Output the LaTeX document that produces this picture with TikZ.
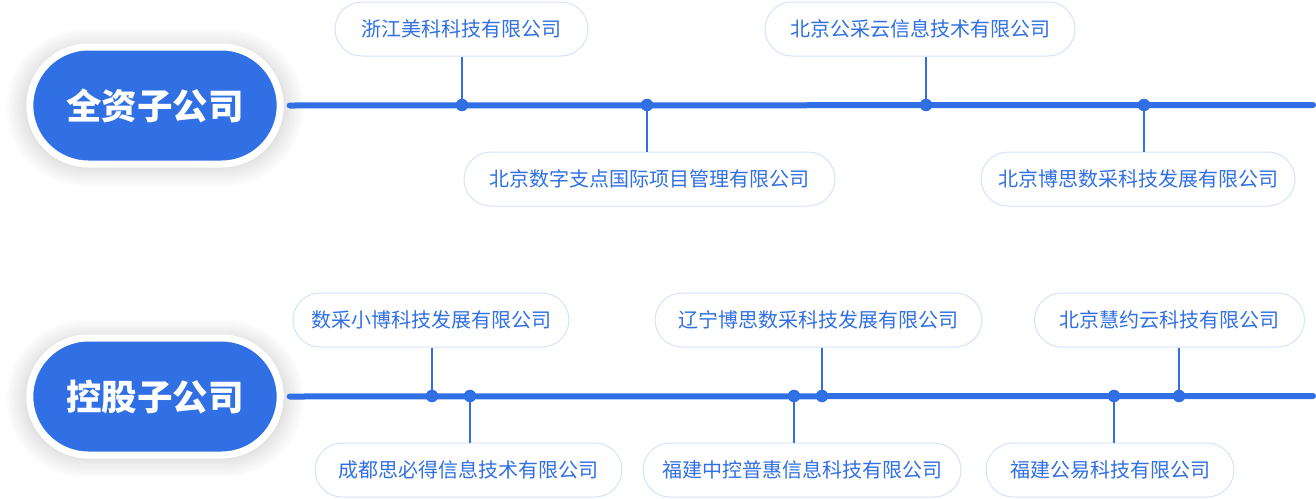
\documentclass[tikz,border=0pt]{standalone}
\usepackage{fontspec}
\newfontfamily\cjk{Noto Sans CJK SC}
\usetikzlibrary{shapes.misc,shadows.blur}
\definecolor{mainblue}{RGB}{48,112,228}
\definecolor{boxline}{RGB}{214,226,247}
\tikzset{
  group/.style={rounded rectangle, fill=mainblue, draw=white, line width=7pt,
    minimum width=257pt, minimum height=117pt, text=white,
    font=\cjk\bfseries\fontsize{35.5}{37}\selectfont,
    blur shadow={shadow xshift=0pt, shadow yshift=-2pt, shadow scale=1.05,
      shadow opacity=20, shadow blur radius=18pt, shadow blur steps=16}},
  company/.style={rounded rectangle, draw=boxline, line width=1pt, fill=white,
    minimum width=#1, minimum height=54pt, inner sep=0pt, text=mainblue,
    font=\cjk\fontsize{20}{21}\selectfont},
  dot/.style={circle, fill=mainblue, inner sep=0pt, minimum size=12.5pt},
  axis/.style={draw=mainblue, line width=6pt, line cap=round},
  stem/.style={draw=mainblue, line width=1.1pt}
}
\begin{document}
\begin{tikzpicture}[x=1pt,y=-1pt]
      \useasboundingbox (0,0) rectangle (1316,498);
      % group heads
      \node[group] (g1) at (155,105.5) {全资子公司};
      \node[group] (g2) at (155,396.5) {控股子公司};
      \coordinate (e1) at (1313,105);
      \coordinate (e2) at (1313,396);
      \draw[axis] (g1.east) ++(6,0) -- (e1);
      \draw[axis] (g2.east) ++(6,0) -- (e2);
      % dots on the lines
      \draw
        (462,105) node[dot] (d11){}
        (647,105) node[dot] (d12){}
        (926,105) node[dot] (d13){}
        (1144,105) node[dot] (d14){}
        (432,396) node[dot] (d21){}
        (470,396) node[dot] (d22){}
        (794,396) node[dot] (d23){}
        (822,396) node[dot] (d24){}
        (1114,396) node[dot] (d25){}
        (1179,396) node[dot] (d26){};
      % companies
      \node[company=253pt] (c11) at (461.5,29) {浙江美科科技有限公司};
      \node[company=371pt] (c12) at (649.5,179) {北京数字支点国际项目管理有限公司};
      \node[company=310pt] (c13) at (920,29) {北京公采云信息技术有限公司};
      \node[company=314pt] (c14) at (1138,179) {北京博思数采科技发展有限公司};
      \node[company=276pt] (c21) at (431,320) {数采小博科技发展有限公司};
      \node[company=307pt] (c22) at (468.5,470) {成都思必得信息技术有限公司};
      \node[company=318pt] (c23) at (802,470) {福建中控普惠信息科技有限公司};
      \node[company=327pt] (c24) at (818.5,320) {辽宁博思数采科技发展有限公司};
      \node[company=248pt] (c25) at (1110,470) {福建公易科技有限公司};
      \node[company=270pt] (c26) at (1169.5,320) {北京慧约云科技有限公司};
      \begin{scope}[stem]
        \draw (c11.south -| d11) to (d11);
        \draw (c12.north -| d12) to (d12);
        \draw (c13.south -| d13) to (d13);
        \draw (c14.north -| d14) to (d14);
        \draw (c21.south -| d21) to (d21);
        \draw (c22.north -| d22) to (d22);
        \draw (c23.north -| d23) to (d23);
        \draw (c24.south -| d24) to (d24);
        \draw (c25.north -| d25) to (d25);
        \draw (c26.south -| d26) to (d26);
      \end{scope}
    \end{tikzpicture}
\end{document}
